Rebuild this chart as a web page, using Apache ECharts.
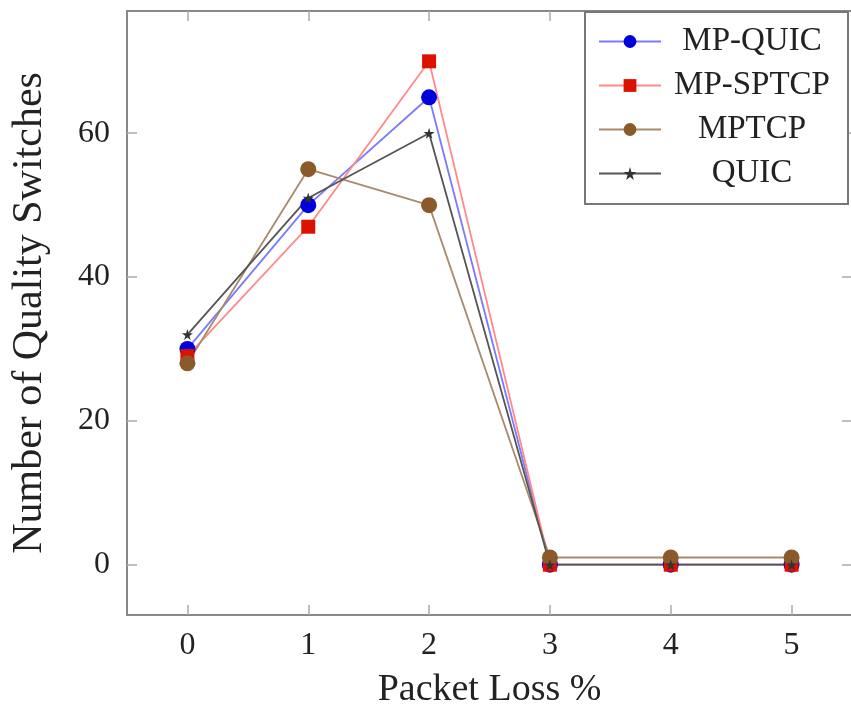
<!DOCTYPE html>
<html>
<head>
<meta charset="utf-8">
<script src="https://cdn.jsdelivr.net/npm/echarts@6/dist/echarts.min.js"></script>
<style>
    html, body { margin: 0; padding: 0; background: #fff; }
    #chart { width: 851px; height: 711px; }
</style>
</head>
<body>
<div id="chart"></div>
<script>
// 数据
var lossRates = ['0', '1', '2', '3', '4', '5'];
var mpQuic = [30, 50, 65, 0, 0, 0];
var mpSptcp = [29, 47, 70, 0, 0, 0];
var mptcp = [28, 55, 50, 1, 1, 1];
var quic = [32, 51, 60, 0, 0, 0];
var yTicks = [0, 20, 40, 60];

var fontName = 'Liberation Serif';
// 星形标记
var starPath = 'path://M50,0 L61,35 L98,35 L68,57 L79,91 L50,70 L21,91 L32,57 L2,35 L39,35 Z';

var chart = echarts.init(document.getElementById('chart'));

function makeSeries(name, data, lineColor, markColor, symbol, size) {
    return {
        name: name,
        type: 'line',
        data: data,
        symbol: symbol,
        symbolSize: size,
        showAllSymbol: true,
        lineStyle: { color: lineColor, width: 1.8 },
        itemStyle: { color: markColor, borderWidth: 0 },
        emphasis: { disabled: true },
        animation: false
    };
}

var tickStyle = { show: true, inside: true, length: 10, lineStyle: { color: '#aaa', width: 1.5 } };
var lineStyle = { show: true, onZero: false, lineStyle: { color: '#888', width: 2 } };

option = {
    backgroundColor: '#fff',
    textStyle: { fontFamily: fontName },
    grid: {
        left: 127,
        right: -1,
        top: 11,
        bottom: 96,
        outerBoundsMode: 'none',
        containLabel: false
    },
    legend: {
        left: 585,
        top: 12,
        orient: 'vertical',
        padding: [13, 10, 14, 13],
        itemWidth: 62,
        itemHeight: 16,
        itemGap: 11,
        borderColor: '#777',
        borderWidth: 2,
        backgroundColor: '#fff',
        formatter: function (name) {
            return '{a|' + name + '}';
        },
        textStyle: {
            fontFamily: fontName,
            fontSize: 33,
            color: '#222',
            rich: {
                a: { width: 172, align: 'center', fontSize: 33, lineHeight: 33, fontFamily: fontName, color: '#222' }
            }
        },
        data: ['MP-QUIC', 'MP-SPTCP', 'MPTCP', 'QUIC']
    },
    xAxis: [{
        type: 'category',
        data: lossRates,
        boundaryGap: true,
        name: 'Packet Loss %',
        nameLocation: 'middle',
        nameGap: 56,
        nameTextStyle: { fontFamily: fontName, fontSize: 38, color: '#222' },
        axisLine: lineStyle,
        axisTick: Object.assign({ alignWithLabel: true }, tickStyle),
        axisLabel: { fontFamily: fontName, fontSize: 32, color: '#222', margin: 15 },
        splitLine: { show: false }
    }, {
        type: 'category',
        data: lossRates,
        position: 'top',
        boundaryGap: true,
        axisLine: lineStyle,
        axisTick: Object.assign({ alignWithLabel: true }, tickStyle),
        axisLabel: { show: false },
        splitLine: { show: false }
    }],
    yAxis: [{
        type: 'value',
        min: -7,
        max: 77,
        name: 'Number of Quality Switches',
        nameLocation: 'middle',
        nameGap: 76,
        nameTextStyle: { fontFamily: fontName, fontSize: 42, color: '#222' },
        axisLine: lineStyle,
        axisTick: Object.assign({ customValues: yTicks }, tickStyle),
        axisLabel: { customValues: yTicks, fontFamily: fontName, fontSize: 32, color: '#222', margin: 17 },
        splitLine: { show: false }
    }, {
        type: 'value',
        min: -7,
        max: 77,
        position: 'right',
        axisLine: lineStyle,
        axisTick: Object.assign({ customValues: yTicks }, tickStyle),
        axisLabel: { show: false },
        splitLine: { show: false }
    }],
    series: [
        makeSeries('MP-QUIC', mpQuic, '#7a7aff', '#0000dd', 'circle', 16),
        makeSeries('MP-SPTCP', mpSptcp, '#ff8a8a', '#dd1100', 'rect', 14),
        makeSeries('MPTCP', mptcp, '#a88a6c', '#8b5a2b', 'circle', 16),
        makeSeries('QUIC', quic, '#555555', '#333333', starPath, 11)
    ]
};
chart.setOption(option);
</script>
</body>
</html>
